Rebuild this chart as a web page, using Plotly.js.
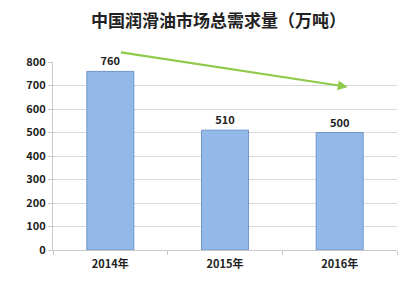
<!DOCTYPE html>
<html><head><meta charset="utf-8">
<script src="https://cdn.plot.ly/plotly-3.0.1.min.js"></script>
<style>html,body{margin:0;padding:0;background:#fff}#c{width:420px;height:283px}</style>
</head><body><div id="c"></div>
<script>
const categories = ["2014年", "2015年", "2016年"];
const values = [760, 510, 500];
const yTicks = [0, 100, 200, 300, 400, 500, 600, 700, 800];
const arrowStart = {x: 0.08, y: 842};
const arrowEnd = {x: 2.07, y: 694};

const font = "'Noto Sans CJK SC', 'Liberation Sans', sans-serif";
const trace = {
  type: 'bar', x: categories, y: values,
  width: 0.41,
  marker: {color: '#92b9e8', line: {color: '#7095c6', width: 1}},
  text: values.map(String), textposition: 'outside',
  textfont: {family: font, size: 11, color: '#222', weight: 'bold'},
  cliponaxis: false, hoverinfo: 'none'
};
const layout = {
  width: 420, height: 283,
  margin: {l: 53, r: 23, t: 62, b: 33},
  paper_bgcolor: '#fff', plot_bgcolor: '#fff',
  title: {text: '<b>中国润滑油市场总需求量（万吨）</b>', font: {family: font, size: 17, color: '#222'}, x: 0.52, xanchor: 'center', y: 0.925, yanchor: 'middle'},
  showlegend: false,
  xaxis: {type: 'category', range: [-0.5, 2.5], showgrid: false, zeroline: false,
    showline: true, linecolor: '#c8c8c8', linewidth: 1, ticks: 'outside', tickson: 'boundaries', ticklen: 4, tickcolor: '#c8c8c8',
    ticklabelstandoff: 4,
    tickfont: {family: font, size: 11, color: '#222', weight: 'bold'}},
  yaxis: {range: [0, 800], tickvals: yTicks, showgrid: true, gridcolor: '#d9d9d9', zeroline: false,
    showline: true, linecolor: '#c8c8c8', ticks: 'outside', ticklen: 4, tickcolor: '#c8c8c8',
    tickfont: {family: font, size: 11, color: '#222', weight: 'bold'}, fixedrange: true},
  annotations: [{
    x: arrowEnd.x, y: arrowEnd.y, ax: arrowStart.x, ay: arrowStart.y,
    xref: 'x', yref: 'y', axref: 'x', ayref: 'y',
    showarrow: true, arrowhead: 2, arrowsize: 0.9, arrowwidth: 2.2, arrowcolor: '#8fca4a', text: ''
  }]
};
Plotly.newPlot('c', [trace], layout, {staticPlot: true});
</script></body></html>
